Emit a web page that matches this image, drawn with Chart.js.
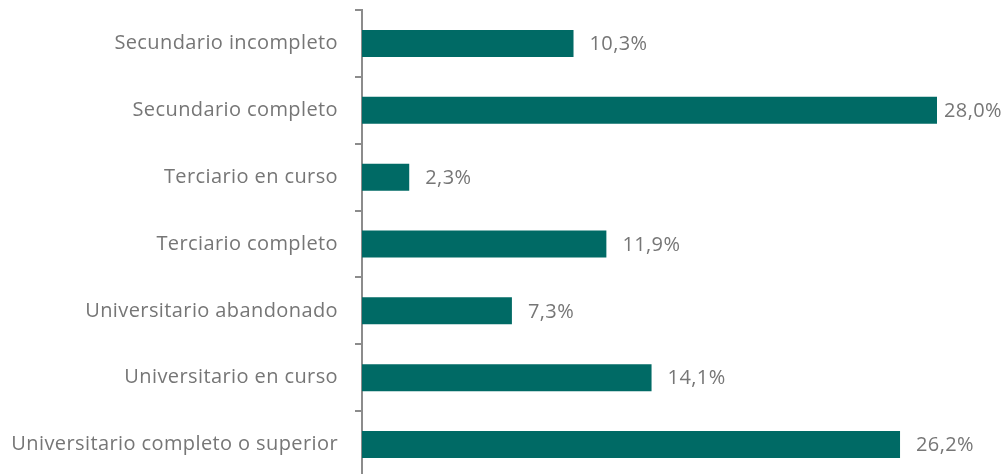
<!DOCTYPE html>
<html>
<head>
<meta charset="utf-8">
<script src="https://cdn.jsdelivr.net/npm/chart.js@4"></script>
<style>
  html, body { margin: 0; padding: 0; background: #fff; overflow: hidden; }
  #wrap { position: relative; width: 1004px; height: 478px; }
</style>
</head>
<body>
<div id="wrap"><canvas id="barChart"></canvas></div>
<script>
// nivel educativo alcanzado (%)
var categorias = [
    "Secundario incompleto",
    "Secundario completo",
    "Terciario en curso",
    "Terciario completo",
    "Universitario abandonado",
    "Universitario en curso",
    "Universitario completo o superior"
];
var porcentajes = [10.3, 28.0, 2.3, 11.9, 7.3, 14.1, 26.2];

var VERDE = "#006a65";
var GRIS = "#767676";
var FUENTE = "'Open Sans', 'Liberation Sans', sans-serif";
var ESPACIADO = "0.4px";

function formatoPct(v){
    return v.toFixed(1).replace(".", ",") + "%";
}

// un poco de espaciado entre letras para todos los textos
var espaciado = {
    id: "espaciado",
    beforeDraw: function(chart){
        chart.ctx.letterSpacing = ESPACIADO;
    }
};

// etiquetas de valor a la derecha de cada barra
var etiquetas = {
    id: "etiquetas",
    afterDatasetsDraw: function(chart){
        var ctx = chart.ctx;
        var meta = chart.getDatasetMeta(0);
        ctx.save();
        ctx.letterSpacing = ESPACIADO;
        ctx.font = "20px " + FUENTE;
        ctx.fillStyle = GRIS;
        ctx.textBaseline = "middle";
        ctx.textAlign = "left";
        meta.data.forEach(function(bar, i){
            var txt = formatoPct(porcentajes[i]);
            var w = ctx.measureText(txt).width;
            var x = bar.x + 16;
            if (x + w > chart.width - 2) x = chart.width - 2 - w;
            ctx.fillText(txt, x, bar.y + 1);
        });
        ctx.restore();
    }
};

function drawChart(){
    const CHART = document.getElementById('barChart');
    let barChart = new Chart(CHART, {
        type: 'bar',
        data: {
            labels: categorias,
            datasets: [{
                data: porcentajes,
                backgroundColor: VERDE,
                categoryPercentage: 1,
                barPercentage: 0.404
            }]
        },
        options: {
            indexAxis: 'y',
            responsive: true,
            maintainAspectRatio: false,
            animation: false,
            layout: { padding: { top: 10, right: 67, bottom: 0, left: 0 } },
            plugins: { legend: { display: false }, tooltip: { enabled: false } },
            scales: {
                x: { display: false, min: 0, max: 28 },
                y: {
                    afterFit: function(scale){
                        scale.width = 362;
                        scale.paddingTop = 0;
                        scale.paddingBottom = 0;
                    },
                    border: { display: true, color: "#8c8c8c", width: 2 },
                    grid: {
                        offset: true,
                        drawOnChartArea: false,
                        drawTicks: true,
                        tickLength: 7,
                        color: "#8c8c8c",
                        lineWidth: 2
                    },
                    ticks: {
                        padding: 17,
                        color: GRIS,
                        font: { family: FUENTE, size: 20 }
                    }
                }
            }
        },
        plugins: [espaciado, etiquetas]
    });
}

drawChart();
</script>
</body>
</html>
